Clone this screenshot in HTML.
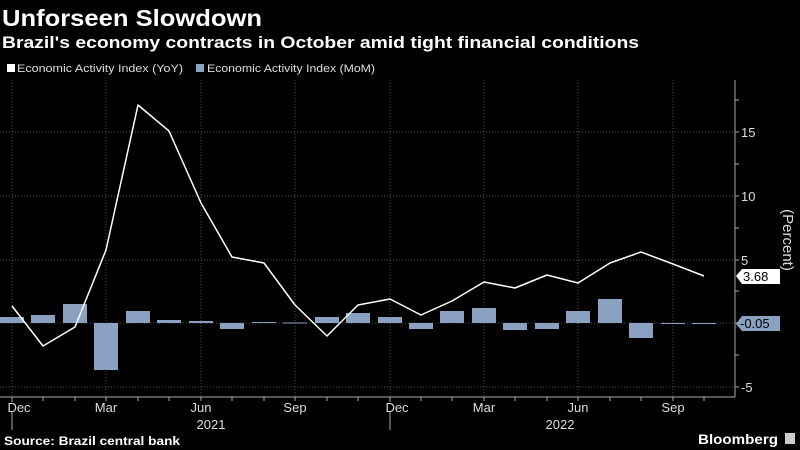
<!DOCTYPE html>
<html><head><meta charset="utf-8"><style>
html,body{margin:0;padding:0;background:#000;width:800px;height:450px;overflow:hidden}
svg{display:block;font-family:"Liberation Sans",sans-serif}
</style></head><body>
<svg width="800" height="450" viewBox="0 0 800 450" xmlns="http://www.w3.org/2000/svg">
<rect width="800" height="450" fill="#000"/>
<text x="2" y="26" fill="#fff" font-size="23" font-weight="bold" textLength="260" lengthAdjust="spacingAndGlyphs">Unforseen Slowdown</text>
<text x="2" y="48" fill="#fff" font-size="17" font-weight="bold" textLength="637" lengthAdjust="spacingAndGlyphs">Brazil's economy contracts in October amid tight financial conditions</text>
<rect x="7" y="64" width="8" height="8" fill="#fff"/>
<text x="17" y="72" fill="#ddd" font-size="11" textLength="166" lengthAdjust="spacingAndGlyphs">Economic Activity Index (YoY)</text>
<rect x="196" y="64" width="8" height="8" fill="#8aa1c1"/>
<text x="207" y="72" fill="#ddd" font-size="11" textLength="168" lengthAdjust="spacingAndGlyphs">Economic Activity Index (MoM)</text>
<g stroke="#555" stroke-width="1" stroke-dasharray="1,2">
<line x1="12" y1="80" x2="12" y2="397"/><line x1="106" y1="80" x2="106" y2="397"/><line x1="201" y1="80" x2="201" y2="397"/><line x1="295" y1="80" x2="295" y2="397"/><line x1="390" y1="80" x2="390" y2="397"/><line x1="484" y1="80" x2="484" y2="397"/><line x1="578" y1="80" x2="578" y2="397"/><line x1="673" y1="80" x2="673" y2="397"/>
<line x1="0" y1="132" x2="735" y2="132"/><line x1="0" y1="196" x2="735" y2="196"/><line x1="0" y1="260" x2="735" y2="260"/><line x1="0" y1="387" x2="735" y2="387"/><line x1="0" y1="323" x2="735" y2="323"/>
</g>
<g fill="#8aa1c1">
<rect x="0" y="317" width="24" height="6"/>
<rect x="31" y="315" width="24" height="8"/>
<rect x="63" y="304" width="24" height="19"/>
<rect x="94" y="323" width="24" height="47"/>
<rect x="126" y="311" width="24" height="12"/>
<rect x="157" y="320" width="24" height="3"/>
<rect x="189" y="321" width="24" height="2"/>
<rect x="220" y="323" width="24" height="6"/>
<rect x="252" y="322" width="24" height="1"/>
<rect x="283" y="322.5" width="24" height="1"/>
<rect x="315" y="317" width="24" height="6"/>
<rect x="346" y="313" width="24" height="10"/>
<rect x="378" y="317" width="24" height="6"/>
<rect x="409" y="323" width="24" height="6"/>
<rect x="440" y="311" width="24" height="12"/>
<rect x="472" y="308" width="24" height="15"/>
<rect x="503" y="323" width="24" height="7"/>
<rect x="535" y="323" width="24" height="6"/>
<rect x="566" y="311" width="24" height="12"/>
<rect x="598" y="299" width="24" height="24"/>
<rect x="629" y="323" width="24" height="15"/>
<rect x="661" y="323" width="24" height="1"/>
<rect x="692" y="323" width="24" height="1"/>
</g>
<polyline fill="none" stroke="#fff" stroke-width="1.5" stroke-linejoin="round" points="12,306 43,346 75,327 106,250 138,105 169,131 201,203 232,257 264,263 295,305 327,336 358,305 390,299 421,315 452,301 484,282 515,288 547,275 578,283 610,263 641,252 673,264 704,276"/>
<g stroke="#aaa" stroke-width="1">
<line x1="0" y1="397" x2="735" y2="397"/>
<line x1="735" y1="80" x2="735" y2="397"/>
<line x1="735" y1="100" x2="739" y2="100"/><line x1="735" y1="132" x2="739" y2="132"/><line x1="735" y1="164" x2="739" y2="164"/><line x1="735" y1="196" x2="739" y2="196"/><line x1="735" y1="228" x2="739" y2="228"/><line x1="735" y1="260" x2="739" y2="260"/><line x1="735" y1="291" x2="739" y2="291"/><line x1="735" y1="323" x2="739" y2="323"/><line x1="735" y1="355" x2="739" y2="355"/><line x1="735" y1="387" x2="739" y2="387"/>
<line x1="12" y1="397" x2="12" y2="402"/><line x1="43" y1="397" x2="43" y2="401"/><line x1="75" y1="397" x2="75" y2="401"/><line x1="106" y1="397" x2="106" y2="401"/><line x1="138" y1="397" x2="138" y2="401"/><line x1="169" y1="397" x2="169" y2="401"/><line x1="201" y1="397" x2="201" y2="401"/><line x1="232" y1="397" x2="232" y2="401"/><line x1="264" y1="397" x2="264" y2="401"/><line x1="295" y1="397" x2="295" y2="401"/><line x1="327" y1="397" x2="327" y2="401"/><line x1="358" y1="397" x2="358" y2="401"/><line x1="390" y1="397" x2="390" y2="402"/><line x1="421" y1="397" x2="421" y2="401"/><line x1="452" y1="397" x2="452" y2="401"/><line x1="484" y1="397" x2="484" y2="401"/><line x1="515" y1="397" x2="515" y2="401"/><line x1="547" y1="397" x2="547" y2="401"/><line x1="578" y1="397" x2="578" y2="401"/><line x1="610" y1="397" x2="610" y2="401"/><line x1="641" y1="397" x2="641" y2="401"/><line x1="673" y1="397" x2="673" y2="401"/><line x1="704" y1="397" x2="704" y2="401"/>
<line x1="12" y1="412" x2="12" y2="430"/><line x1="390" y1="412" x2="390" y2="430"/>
</g>
<g fill="#ddd" font-size="13">
<text x="741" y="137">15</text><text x="741" y="201">10</text><text x="741" y="265">5</text><text x="741" y="392">-5</text>
<text x="19" y="412" text-anchor="middle">Dec</text><text x="106" y="412" text-anchor="middle">Mar</text><text x="201" y="412" text-anchor="middle">Jun</text><text x="295" y="412" text-anchor="middle">Sep</text><text x="397" y="412" text-anchor="middle">Dec</text><text x="484" y="412" text-anchor="middle">Mar</text><text x="578" y="412" text-anchor="middle">Jun</text><text x="673" y="412" text-anchor="middle">Sep</text>
<text x="211" y="429" text-anchor="middle">2021</text><text x="560" y="429" text-anchor="middle">2022</text>
</g>
<text transform="translate(783,240) rotate(90)" fill="#ddd" font-size="15" text-anchor="middle">(Percent)</text>
<path d="M736,276 L742,269 L780,269 L780,284 L742,284 Z" fill="#fff"/>
<text x="743" y="281" fill="#000" font-size="13">3.68</text>
<path d="M736,324 L742,316 L780,316 L780,331 L742,331 Z" fill="#8aa1c1"/>
<text x="740" y="328" fill="#000" font-size="13">-0.05</text>
<text x="4" y="445" fill="#fff" font-size="12" font-weight="bold" textLength="176" lengthAdjust="spacingAndGlyphs">Source: Brazil central bank</text>
<text x="698" y="444" fill="#fff" font-size="14" font-weight="bold" textLength="80" lengthAdjust="spacingAndGlyphs">Bloomberg</text>
<rect x="785" y="433" width="10" height="11" fill="#ccc"/>
</svg>
</body></html>
